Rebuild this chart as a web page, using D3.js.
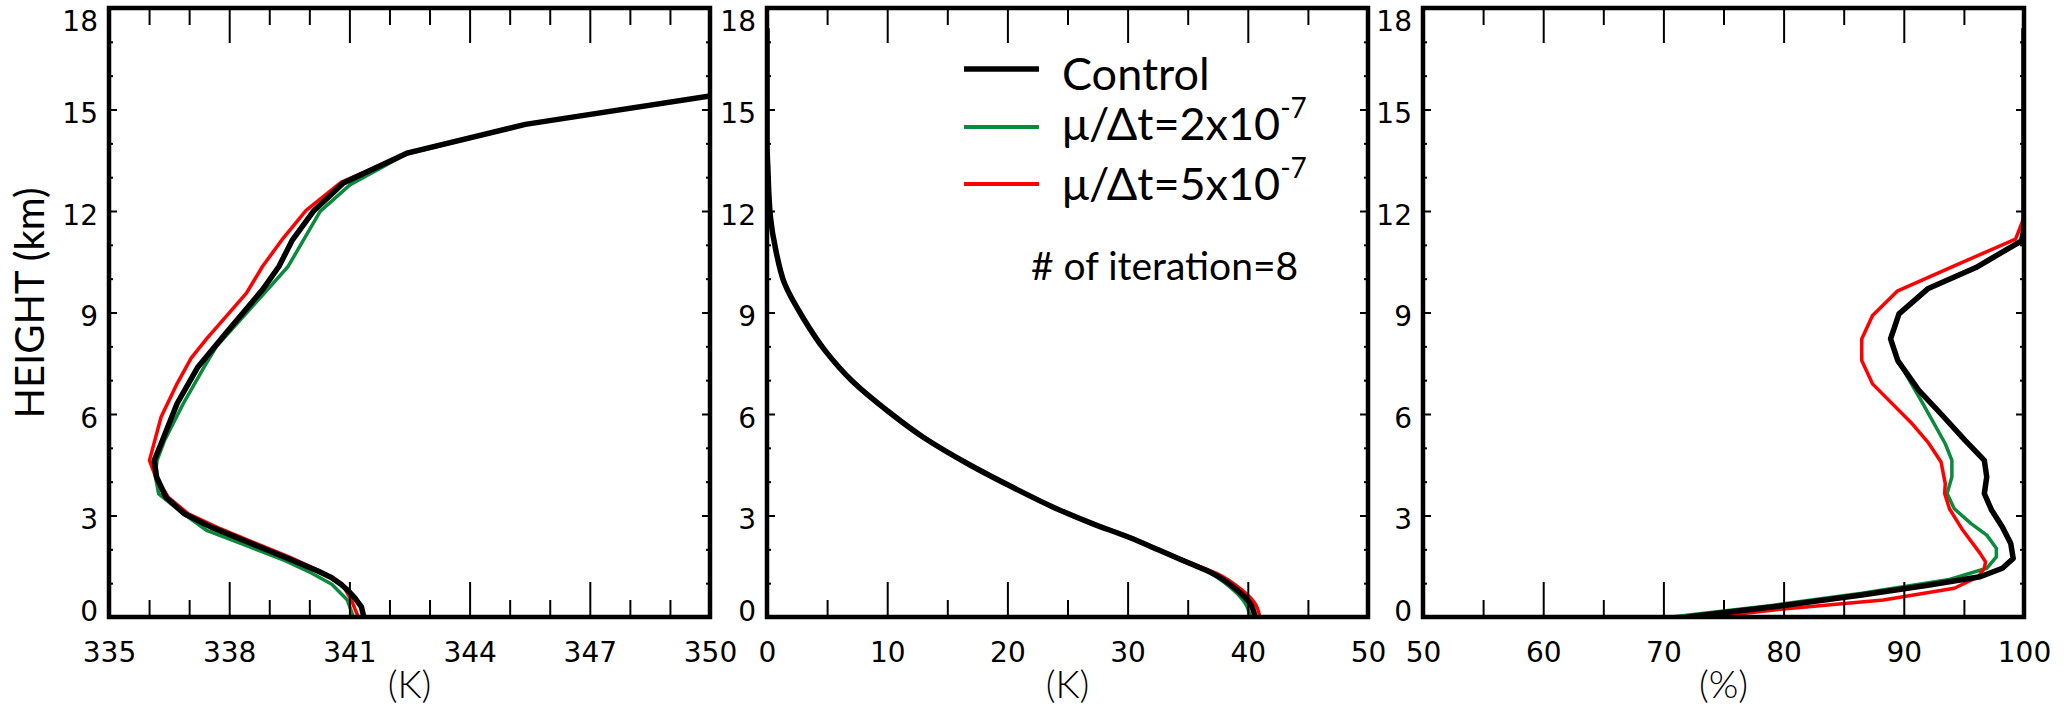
<!DOCTYPE html>
<html>
<head>
<meta charset="utf-8">
<script src="https://cdn.jsdelivr.net/npm/d3@7"></script>
<style>
body { margin: 0; background: #fff; }
svg text { font-family: Lato, "DejaVu Sans", sans-serif; fill: #000; }
</style>
</head>
<body>
<svg id="chart" width="2068" height="710"></svg>
<script>
// heights (km) and values
const heightTick = [0, 3, 6, 9, 12, 15, 18];
const heightMinor = [1, 2, 4, 5, 7, 8, 10, 11, 13, 14, 16, 17];

// panel 1 (K, 335-350)
const p1Ticks = [335, 338, 341, 344, 347, 350];
const p1Minor = [336, 337, 339, 340, 342, 343, 345, 346, 348, 349];
const p1CtlH = [0, 0.3, 0.57, 0.8, 0.97, 1.17, 1.36, 1.76, 2.2, 2.65, 3.05, 3.54, 4.13, 4.63, 5.12, 6.31, 7.39, 8.38, 9.67, 10.36, 11.15, 11.99, 12.83, 13.72, 14.56, 15.4, 15.58];
const p1Ctl  = [341.36, 341.3, 341.13, 340.95, 340.79, 340.55, 340.21, 339.41, 338.49, 337.56, 336.88, 336.42, 336.19, 336.13, 336.3, 336.7, 337.22, 337.91, 338.83, 339.24, 339.58, 340.1, 340.85, 342.46, 345.39, 350.0, 351];
const p1GrnH = [0, 0.5, 0.97, 1.3, 1.66, 2.1, 2.55, 3.14, 3.64, 4.2, 4.63, 5.2, 6.3, 7.4, 7.99, 9.67, 10.36, 11.99, 12.78, 13.67, 14.56, 15.4, 15.58];
const p1Grn  = [341.1, 340.95, 340.56, 340.05, 339.41, 338.45, 337.45, 336.76, 336.24, 336.15, 336.2, 336.38, 336.85, 337.38, 337.68, 338.95, 339.47, 340.27, 341.02, 342.4, 345.39, 350.0, 351];
const p1RedH = [0, 0.5, 0.97, 1.36, 1.76, 2.2, 2.65, 3.05, 3.54, 4.13, 4.63, 5.91, 6.9, 7.65, 8.24, 9.57, 10.36, 11.2, 12.02, 12.85, 13.72, 14.56, 15.4, 15.58];
const p1Red  = [341.22, 341.05, 340.82, 340.27, 339.52, 338.62, 337.7, 336.98, 336.48, 336.17, 336.01, 336.3, 336.7, 337.05, 337.45, 338.43, 338.83, 339.35, 339.92, 340.79, 342.46, 345.39, 350.0, 351];

// panel 2 (K, 0-50)
const p2Ticks = [0, 10, 20, 30, 40, 50];
const p2Minor = [5, 15, 25, 35, 45];
const p2H   = [0, 0.40, 0.80, 1.29, 1.58, 1.98, 2.37, 2.76, 3.2, 3.84, 4.53, 5.32, 6.1, 6.99, 7.88, 8.86, 9.84, 10.83, 11.81, 13.28, 14.0, 17.4];
const p2Ctl = [40.6, 40.2, 39.1, 37.08, 35.2, 32.6, 30.0, 27.07, 24.1, 20.4, 16.7, 12.97, 10.0, 7.04, 4.82, 2.97, 1.48, 0.74, 0.29, 0.07, 0, 0];
const p2Grn = [40.2, 39.8, 38.8, 36.9, 35.1, 32.6, 30.0, 27.07, 24.1, 20.4, 16.7, 12.97, 10.0, 7.04, 4.82, 2.97, 1.48, 0.74, 0.29, 0.07, 0, 0];
const p2Red = [41.0, 40.6, 39.5, 37.4, 35.4, 32.7, 30.1, 27.1, 24.1, 20.4, 16.7, 12.97, 10.0, 7.04, 4.82, 2.97, 1.48, 0.74, 0.29, 0.07, 0, 0];

// panel 3 (%, 50-100)
const p3Ticks = [50, 60, 70, 80, 90, 100];
const p3Minor = [55, 65, 75, 85, 95];
const p3CtlH = [0, 0.3, 0.65, 0.94, 1.19, 1.44, 1.73, 2.17, 2.66, 3.16, 3.65, 4.14, 4.63, 5.22, 6.0, 6.7, 7.58, 8.22, 8.96, 9.7, 10.33, 11.12, 11.5, 17.4];
const p3Ctl  = [71.94, 79.2, 86.5, 92.0, 96.35, 98.2, 99.1, 98.9, 98.2, 97.3, 96.7, 96.9, 96.7, 95.1, 93.1, 91.25, 89.5, 88.9, 89.6, 91.99, 96.0, 99.8, 100, 100];
const p3GrnH = [0, 0.35, 0.70, 1.11, 1.44, 1.78, 2.03, 2.42, 2.76, 3.2, 3.65, 4.14, 4.63, 5.12, 6.3, 7.29, 7.58, 8.22, 8.96, 9.7, 10.33, 11.12, 11.5, 17.4];
const p3Grn  = [70.66, 79.2, 86.5, 93.8, 96.9, 97.7, 97.7, 96.9, 95.6, 94.2, 93.6, 94.0, 94.0, 93.45, 91.6, 89.99, 89.5, 88.9, 89.6, 91.99, 96.0, 99.8, 100, 100];
const p3RedH = [0, 0.21, 0.5, 0.85, 1.19, 1.44, 1.63, 1.88, 2.57, 3.2, 3.65, 3.94, 4.58, 5.17, 5.71, 6.89, 7.58, 8.22, 8.91, 9.63, 10.38, 11.17, 11.81, 17.4];
const p3Red  = [74.1, 79.2, 88.3, 94.2, 96.2, 96.7, 96.8, 96.35, 94.9, 93.8, 93.4, 93.45, 93.1, 92.0, 90.7, 87.4, 86.5, 86.5, 87.4, 89.45, 94.2, 99.3, 100, 100];

const legendNames = ['Control', 'μ/Δt=2x10', 'μ/Δt=5x10'];
const legendExp = ['', '-7', '-7'];
const colors = ['#000000', '#0a8a3c', '#ff0000'];

const svg = d3.select('#chart');
const plotTop = 8, plotBottom = 617, panelW = 601;
const y = d3.scaleLinear().domain([0, 18]).range([plotBottom, plotTop]);
const tickFont = '"DejaVu Sans", Lato, sans-serif';

const panels = [
  { left: 109, domain: [335, 350], ticks: p1Ticks, minor: p1Minor, unit: '(K)', curve: d3.curveLinear,
    series: [[p1GrnH, p1Grn, 1], [p1RedH, p1Red, 2], [p1CtlH, p1Ctl, 0]] },
  { left: 767, domain: [0, 50], ticks: p2Ticks, minor: p2Minor, unit: '(K)', curve: d3.curveMonotoneY,
    series: [[p2H, p2Grn, 1], [p2H, p2Red, 2], [p2H, p2Ctl, 0]] },
  { left: 1423, domain: [50, 100], ticks: p3Ticks, minor: p3Minor, unit: '(%)', curve: d3.curveLinear,
    series: [[p3GrnH, p3Grn, 1], [p3RedH, p3Red, 2], [p3CtlH, p3Ctl, 0]] }
];

function styleAxis(g) {
  g.select('.domain').remove();
  g.selectAll('.tick line').attr('stroke', '#000').attr('stroke-width', 2);
  g.selectAll('.tick text')
    .attr('font-size', 28).attr('font-weight', 400).attr('fill', '#000')
    .style('font-family', tickFont);
}

panels.forEach((p, i) => {
  const x = d3.scaleLinear().domain(p.domain).range([p.left, p.left + panelW]);
  const right = p.left + panelW;

  svg.append('clipPath').attr('id', 'clip' + i)
    .append('rect').attr('x', p.left).attr('y', plotTop).attr('width', panelW).attr('height', plotBottom - plotTop);

  const line = d3.line().curve(p.curve).x(d => x(d[1])).y(d => y(d[0]));
  const lg = svg.append('g').attr('clip-path', `url(#clip${i})`);
  p.series.forEach(s => {
    const pts = s[0].map((h, k) => [h, s[1][k]]);
    lg.append('path')
      .attr('d', line(pts))
      .attr('fill', 'none')
      .attr('stroke', colors[s[2]])
      .attr('stroke-width', s[2] === 0 ? 5.5 : 3.5)
      .attr('stroke-linejoin', 'round');
  });

  // bottom axis
  svg.append('g').attr('transform', `translate(0,${plotBottom})`)
    .call(d3.axisBottom(x).tickValues(p.ticks).tickSizeInner(-35).tickSizeOuter(0).tickPadding(25).tickFormat(d3.format('d')))
    .call(styleAxis);
  svg.append('g').attr('transform', `translate(0,${plotBottom})`)
    .call(d3.axisBottom(x).tickValues(p.minor).tickSizeInner(-17).tickSizeOuter(0).tickFormat(''))
    .call(styleAxis);
  // top axis
  svg.append('g').attr('transform', `translate(0,${plotTop})`)
    .call(d3.axisTop(x).tickValues(p.ticks).tickSizeInner(-35).tickSizeOuter(0).tickFormat(''))
    .call(styleAxis);
  svg.append('g').attr('transform', `translate(0,${plotTop})`)
    .call(d3.axisTop(x).tickValues(p.minor).tickSizeInner(-17).tickSizeOuter(0).tickFormat(''))
    .call(styleAxis);
  // left axis, labels nudged like the original (0 raised, 18 lowered)
  svg.append('g').attr('transform', `translate(${p.left},0)`)
    .call(d3.axisLeft(y).tickValues(heightTick).tickSizeInner(-8).tickSizeOuter(0).tickPadding(11))
    .call(styleAxis)
    .call(g => g.selectAll('.tick text').attr('dy', d => d === 0 ? 3 : d === 18 ? 22 : 13));
  svg.append('g').attr('transform', `translate(${p.left},0)`)
    .call(d3.axisLeft(y).tickValues(heightMinor).tickSizeInner(-4).tickSizeOuter(0).tickFormat(''))
    .call(styleAxis);
  // right axis
  svg.append('g').attr('transform', `translate(${right},0)`)
    .call(d3.axisRight(y).tickValues(heightTick).tickSizeInner(-8).tickSizeOuter(0).tickFormat(''))
    .call(styleAxis);
  svg.append('g').attr('transform', `translate(${right},0)`)
    .call(d3.axisRight(y).tickValues(heightMinor).tickSizeInner(-4).tickSizeOuter(0).tickFormat(''))
    .call(styleAxis);

  // frame
  svg.append('rect')
    .attr('x', p.left).attr('y', plotTop).attr('width', panelW).attr('height', plotBottom - plotTop)
    .attr('fill', 'none').attr('stroke', '#000').attr('stroke-width', 4.5);

  svg.append('text')
    .attr('x', (p.left + right) / 2).attr('y', 698)
    .attr('text-anchor', 'middle').attr('font-size', 38).attr('font-weight', 300)
    .text(p.unit);
});

svg.append('text')
  .attr('transform', 'translate(44,303) rotate(-90)')
  .attr('text-anchor', 'middle').attr('font-size', 40)
  .text('HEIGHT (km)');

// legend
const legY = [69, 127, 184];
const legBase = [90, 140, 200];
legendNames.forEach((name, i) => {
  svg.append('line')
    .attr('x1', 964).attr('x2', 1039).attr('y1', legY[i]).attr('y2', legY[i])
    .attr('stroke', colors[i]).attr('stroke-width', i === 0 ? 5.5 : 4);
  const t = svg.append('text').attr('x', 1062).attr('y', legBase[i]).attr('font-size', 45);
  t.append('tspan').text(name);
  if (legendExp[i]) {
    t.append('tspan').attr('dy', -22).attr('font-size', 28).text(legendExp[i]);
  }
});

svg.append('text')
  .attr('x', 1031).attr('y', 280).attr('font-size', 39)
  .text('# of iteration=8');
</script>
</body>
</html>
